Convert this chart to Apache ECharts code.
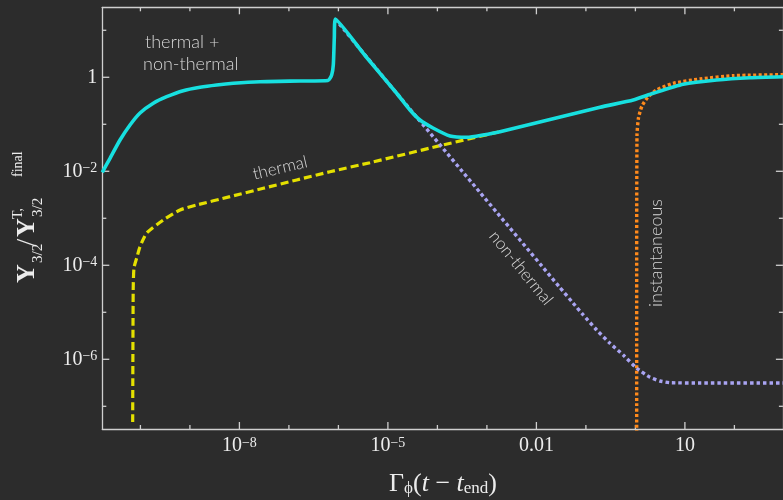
<!DOCTYPE html>
<html><head><meta charset="utf-8">
<script src="https://cdn.jsdelivr.net/npm/echarts@6/dist/echarts.min.js"></script>
<style>html,body{margin:0;padding:0;background:#2c2c2c}#c{width:783px;height:500px}</style>
</head><body><div id="c"></div>
<script>
// All values are log10 exponents: x = log10(Γφ (t − t_end)), y = log10(Y3/2 / Y3/2^T,final)
const totalLogT = [-10.770,-10.614,-10.412,-10.210,-10.008,-9.740,-9.469,-9.134,-8.796,-8.459,-8.124,-7.584,-6.776,-6.210,-6.136,-6.103,-6.083,-6.063,-5.429,-4.823,-4.554,-4.352,-4.089,-3.746,-3.402,-3.079,-2.736,-0.715,-0.043,0.361,0.967,1.642,2.315,2.994];
const totalLogY = [-2.021,-1.723,-1.334,-1.015,-0.760,-0.553,-0.413,-0.285,-0.213,-0.164,-0.128,-0.094,-0.079,-0.068,0.049,0.262,0.830,1.240,0.421,-0.340,-0.696,-0.909,-1.079,-1.249,-1.277,-1.228,-1.157,-0.638,-0.483,-0.340,-0.149,-0.057,-0.009,0.013];

const thermalLogT = [-10.156,-10.146,-10.130,-10.075,-10.008,-9.873,-9.538,-9.200,-8.863,-8.190,-7.517,-6.843,-6.170,-5.362,-3.948,-2.736];
const thermalLogY = [-7.334,-4.526,-4.057,-3.845,-3.604,-3.313,-3.036,-2.823,-2.717,-2.540,-2.362,-2.185,-2.009,-1.817,-1.455,-1.157];

const nonThermalLogT = [-6.063,-4.823,-3.140,-1.524,-1.255,-1.053,-0.782,-0.513,-0.245,0.026,0.295,0.497,0.699,1.305,2.994];
const nonThermalLogY = [1.240,-0.340,-2.449,-4.474,-4.809,-5.057,-5.377,-5.660,-5.909,-6.191,-6.383,-6.462,-6.498,-6.504,-6.504];

const instLogT = [0.026,0.026,0.032,0.062,0.133,0.254,0.430,0.765,1.305,1.978,2.994];
const instLogY = [-7.800,-4.738,-1.228,-0.866,-0.611,-0.419,-0.270,-0.128,-0.036,0.034,0.055];

const xTickExps = [-10,-9,-8,-7,-6,-5,-4,-3,-2,-1,0,1,2];
const xLabelExps = [-8,-5,-2,1];
const xLabelText = {'-2':'0.01','1':'10'};
const yTickExps = [-7,-6,-5,-4,-3,-2,-1,0,1];
const yLabelExps = [-6,-4,-2,0];
const yLabelText = {'0':'1'};

const X_MIN = -10.77, X_MAX = 2.98, Y_MIN = -7.483, Y_MAX = 1.489;

function pairs(xs, ys){ return xs.map((x,i)=>[x, ys[i]]); }

const axisCol = '#cfcfcf';
const serif = '"Liberation Serif", "DejaVu Serif", serif';
const sans = 'Lato, "Open Sans", "Noto Sans", sans-serif';
const labCol = '#ececec';
const MAJOR_LEN = 7, MINOR_LEN = 4;

function expLabel(v, table){
  const k = String(Math.round(v));
  if (table[k] !== undefined) return table[k];
  return '{m|10}{e|\u2212' + Math.abs(Math.round(v)) + '}';
}

function mkX(pos, labels){
  return {
    type:'value', position:pos, min:X_MIN, max:X_MAX,
    axisLine:{show:true, onZero:false, lineStyle:{color:axisCol, width:1.3}},
    axisTick:{show:false},
    axisLabel: labels ? {
      show:true, customValues:labels, margin:7, color:labCol,
      fontFamily:serif, fontSize:20,
      formatter:v=>expLabel(v, xLabelText),
      rich:{
        m:{fontFamily:serif, fontSize:20, lineHeight:20, color:labCol, verticalAlign:'bottom'},
        e:{fontFamily:serif, fontSize:14, lineHeight:14, color:labCol, verticalAlign:'top', padding:[0,0,10,0]}
      }
    } : {show:false},
    splitLine:{show:false}
  };
}
function mkY(pos, labels){
  return {
    type:'value', position:pos, min:Y_MIN, max:Y_MAX,
    axisLine:{show:true, onZero:false, lineStyle:{color:axisCol, width:1.3}},
    axisTick:{show:false},
    axisLabel: labels ? {
      show:true, customValues:labels, margin:5, color:labCol,
      fontFamily:serif, fontSize:20,
      formatter:v=>expLabel(v, yLabelText),
      rich:{
        m:{fontFamily:serif, fontSize:20, lineHeight:20, color:labCol},
        e:{fontFamily:serif, fontSize:14, lineHeight:14, color:labCol, verticalAlign:'top', padding:[0,0,10,0]}
      }
    } : {show:false},
    splitLine:{show:false}
  };
}

// inward tick marks on all four frame sides, placed through the axis scales
function tickLine(x1,y1,x2,y2){
  return {type:'line', shape:{x1:x1,y1:y1,x2:x2,y2:y2}, style:{stroke:axisCol, lineWidth:1.3}};
}
function xTickItem(params, api){
  const v = api.value(0);
  const len = xLabelExps.indexOf(v) >= 0 ? MAJOR_LEN : MINOR_LEN;
  const b = api.coord([v, Y_MIN]);
  const t = api.coord([v, Y_MAX]);
  return {type:'group', children:[tickLine(b[0],b[1],b[0],b[1]-len), tickLine(t[0],t[1],t[0],t[1]+len)]};
}
function yTickItem(params, api){
  const v = api.value(1);
  const len = yLabelExps.indexOf(v) >= 0 ? MAJOR_LEN : MINOR_LEN;
  const l = api.coord([X_MIN, v]);
  const r = api.coord([X_MAX, v]);
  return {type:'group', children:[tickLine(l[0],l[1],l[0]+len,l[1]), tickLine(r[0],r[1],r[0]-len,r[1])]};
}

const chart = echarts.init(document.getElementById('c'), null, {renderer:'canvas'});

const annoStyle = (t, size)=>({text:t, fill:'#d6d6d6', font:'300 '+size+'px '+sans, align:'center', verticalAlign:'middle'});

chart.setOption({
  backgroundColor:'#2c2c2c',
  animation:false,
  grid:{left:102.3, top:7.3, width:680.6, height:421.7},
  xAxis:[ mkX('bottom', xLabelExps), mkX('top', null) ],
  yAxis:[ mkY('left', yLabelExps), mkY('right', null) ],
  series:[
    {name:'xTicks', type:'custom', xAxisIndex:0, yAxisIndex:0, silent:true, clip:false, z:1,
     data:xTickExps.map(v=>[v, 0]), renderItem:xTickItem},
    {name:'yTicks', type:'custom', xAxisIndex:0, yAxisIndex:0, silent:true, clip:false, z:1,
     data:yTickExps.map(v=>[0, v]), renderItem:yTickItem},
    {name:'instantaneous', type:'line', xAxisIndex:0, yAxisIndex:0, data:pairs(instLogT, instLogY), symbol:'none', clip:true, z:2,
     smooth:0.2,
     lineStyle:{color:'#ff8a1c', width:3.4, type:[3,2.4], cap:'butt'}},
    {name:'thermal', type:'line', xAxisIndex:0, yAxisIndex:0, data:pairs(thermalLogT, thermalLogY), symbol:'none', clip:true, z:3,
     smooth:0.2,
     lineStyle:{color:'#e4e000', width:3.2, type:[8,4], cap:'butt'}},
    {name:'non-thermal', type:'line', xAxisIndex:0, yAxisIndex:0, data:pairs(nonThermalLogT, nonThermalLogY), symbol:'none', clip:true, z:4,
     smooth:0.15,
     lineStyle:{color:'#a9a4f2', width:3.4, type:[3.5,3], cap:'butt'}},
    {name:'thermal + non-thermal', type:'line', xAxisIndex:0, yAxisIndex:0, data:pairs(totalLogT, totalLogY), symbol:'none', clip:true, z:5,
     smooth:0.2,
     lineStyle:{color:'#17e0e0', width:3.6, join:'miter'}}
  ],
  graphic:[
    {type:'text', x:145, y:42, style:{text:'thermal +', fill:'#d6d6d6', font:'300 18px '+sans, align:'left', verticalAlign:'middle'}},
    {type:'text', x:143, y:64, style:{text:'non-thermal', fill:'#d6d6d6', font:'300 18px '+sans, align:'left', verticalAlign:'middle'}},
    {type:'text', x:280, y:168, rotation:0.232, style:annoStyle('thermal', 17)},
    {type:'text', x:521, y:268, rotation:-0.887, style:annoStyle('non-thermal', 17)},
    {type:'text', x:656, y:253, rotation:Math.PI/2, style:annoStyle('instantaneous', 18)},
    // x-axis title
    {type:'text', x:443, y:484, style:{
      text:'{m|\u0393}{s|\u03d5}{m|(}{i|t}{m| \u2212 }{i|t}{s|end}{m|)}',
      align:'center', verticalAlign:'middle',
      rich:{
        m:{fontFamily:serif, fontSize:26, lineHeight:26, fill:labCol, verticalAlign:'top'},
        i:{fontFamily:serif, fontSize:26, lineHeight:26, fill:labCol, fontStyle:'italic', verticalAlign:'top'},
        s:{fontFamily:serif, fontSize:17, lineHeight:17, fill:labCol, verticalAlign:'bottom', padding:[0,0,0,0]}
      }
    }},
    // y-axis title (rotated group)
    {type:'group', x:27, y:283, rotation:Math.PI/2, children:[
      {type:'text', x:0, y:0, style:{text:'Y', fill:labCol, font:'bold 26px '+serif, align:'left', verticalAlign:'middle'}},
      {type:'text', x:20, y:11, style:{text:'3/2', fill:labCol, font:'15px '+serif, align:'left', verticalAlign:'middle'}},
      {type:'text', x:37, y:0, style:{text:'/', fill:labCol, font:'26px '+serif, align:'left', verticalAlign:'middle'}},
      {type:'text', x:46, y:0, style:{text:'Y', fill:labCol, font:'bold 26px '+serif, align:'left', verticalAlign:'middle'}},
      {type:'text', x:64, y:-9, style:{text:'T,', fill:labCol, font:'14px '+serif, align:'left', verticalAlign:'middle'}},
      {type:'text', x:106, y:-9, style:{text:'final', fill:labCol, font:'14px '+serif, align:'left', verticalAlign:'middle'}},
      {type:'text', x:66, y:11, style:{text:'3/2', fill:labCol, font:'15px '+serif, align:'left', verticalAlign:'middle'}}
    ]}
  ]
});
</script>
</body></html>
